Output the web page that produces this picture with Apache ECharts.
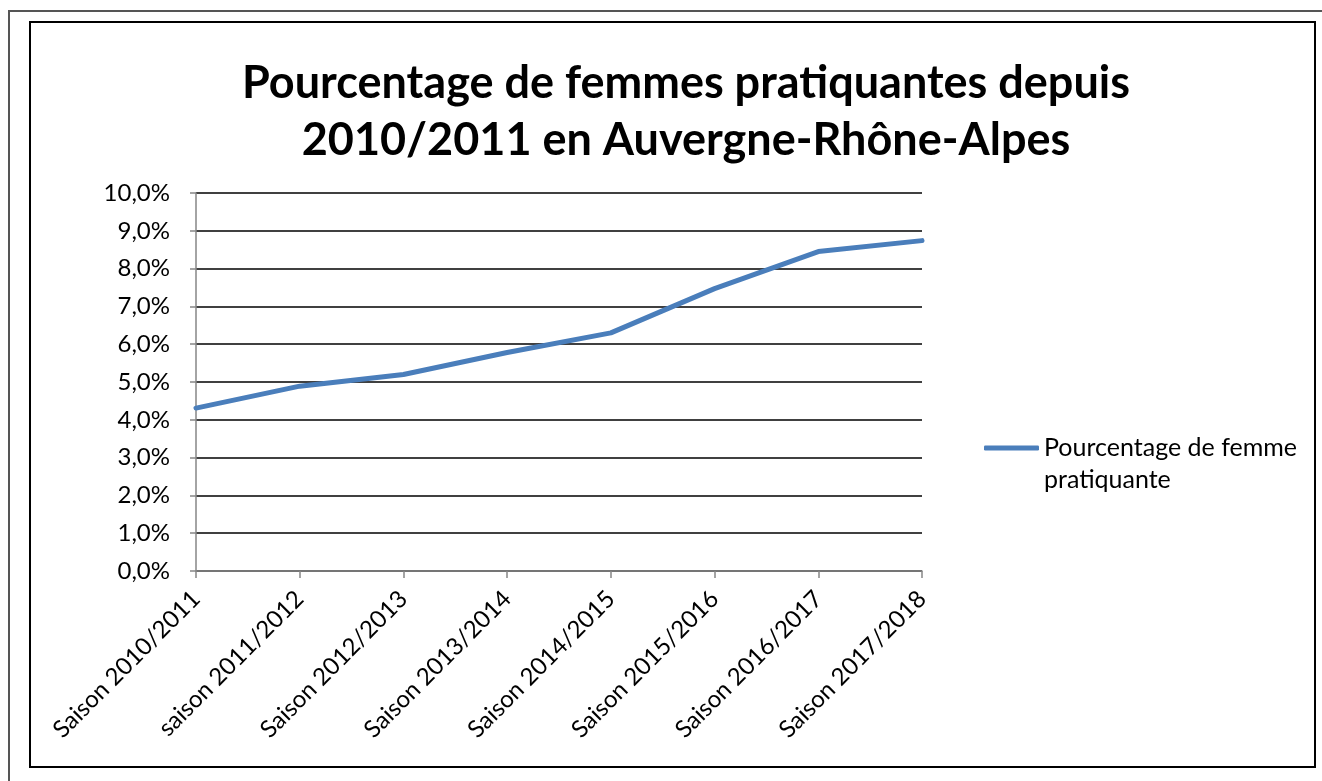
<!DOCTYPE html>
<html>
<head>
<meta charset="utf-8">
<script src="https://cdn.jsdelivr.net/npm/echarts@6/dist/echarts.min.js"></script>
<style>
  body { margin: 0; background: #fff; overflow: hidden; }
  #chart { position: absolute; left: 0; top: 0; width: 1322px; height: 781px; }
  .frame { position: absolute; pointer-events: none; box-sizing: border-box; }
  #outer { left: 8px; top: 10px; width: 1330px; height: 800px; border: 2px solid #555; }
  #inner { left: 29px; top: 21px; width: 1287px; height: 747px; border: 2px solid #000; }
</style>
</head>
<body>
<div id="chart"></div>
<div id="outer" class="frame"></div>
<div id="inner" class="frame"></div>
<script>
// saisons (axe des x)
const categories = [
    'Saison 2010/2011', 'saison 2011/2012', 'Saison 2012/2013', 'Saison 2013/2014',
    'Saison 2014/2015', 'Saison 2015/2016', 'Saison 2016/2017', 'Saison 2017/2018'
];
// pourcentage de femmes pratiquantes, en %
const values = [4.31, 4.89, 5.20, 5.78, 6.30, 7.47, 8.45, 8.74];
const seriesName = 'Pourcentage de femme pratiquante';
const titleLines = ['Pourcentage de femmes pratiquantes depuis', '2010/2011 en Auvergne-Rhône-Alpes'];

const font = 'Lato';
var chart = echarts.init(document.getElementById('chart'));
option = {
    backgroundColor: '#fff',
    animation: false,
    title: {
        text: titleLines.join('\n'),
        left: 681,
        top: 50,
        textAlign: 'center',
        textStyle: {
            fontFamily: font,
            fontWeight: 'bold',
            fontSize: 45,
            lineHeight: 57,
            color: '#000'
        }
    },
    legend: {
        left: 979,
        top: 395,
        itemWidth: 55,
        itemHeight: 5,
        icon: 'roundRect',
        data: [seriesName],
        // ligne vide en tête : le trait reste aligné sur la 1re ligne du texte
        formatter: function(name) {
            return '\nPourcentage de femme\npratiquante';
        },
        textStyle: {
            fontFamily: font,
            fontSize: 25,
            lineHeight: 32,
            color: '#000'
        }
    },
    grid: {
        left: 196,
        right: 400,
        top: 193,
        bottom: 210
    },
    xAxis: {
        type: 'category',
        data: categories,
        boundaryGap: false,
        axisLine: { lineStyle: { color: '#868686', width: 1.5 } },
        axisTick: { show: true, length: 7, lineStyle: { color: '#868686', width: 1.5 } },
        axisLabel: {
            interval: 0,
            rotate: 45,
            margin: 24,
            fontFamily: font,
            fontSize: 24,
            color: '#000'
        }
    },
    yAxis: {
        type: 'value',
        min: 0,
        max: 10,
        interval: 1,
        axisLine: { show: true, lineStyle: { color: '#868686', width: 1.5 } },
        axisTick: { show: true, length: 6, lineStyle: { color: '#868686', width: 1.5 } },
        axisLabel: {
            margin: 26,
            fontFamily: font,
            fontSize: 24,
            color: '#000',
            formatter: function(v) {
                return v.toFixed(1).replace('.', ',') + '%';
            }
        },
        splitLine: { lineStyle: { color: '#000', width: 1.5 } }
    },
    series: [{
        name: seriesName,
        type: 'line',
        data: values,
        symbol: 'none',
        lineStyle: { color: '#4a7ebb', width: 5, cap: 'round', join: 'round' },
        itemStyle: { color: '#4a7ebb' }
    }]
};
chart.setOption(option);
</script>
</body>
</html>
